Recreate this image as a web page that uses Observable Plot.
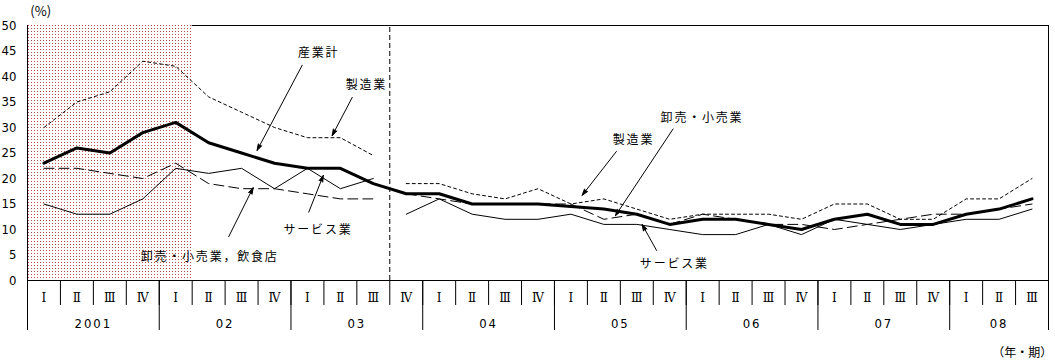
<!DOCTYPE html>
<html><head><meta charset="utf-8">
<script src="https://cdn.jsdelivr.net/npm/d3@7"></script>
<script src="https://cdn.jsdelivr.net/npm/@observablehq/plot@0.6"></script>
<style>
html,body{margin:0;padding:0;background:#fff;}
#chart svg{display:block;}
</style></head><body><div id="chart"></div>
<script>
// ---- data ----
const quarterLabels = ["Ⅰ","Ⅱ","Ⅲ","Ⅳ","Ⅰ","Ⅱ","Ⅲ","Ⅳ","Ⅰ","Ⅱ","Ⅲ","Ⅳ","Ⅰ","Ⅱ","Ⅲ","Ⅳ","Ⅰ","Ⅱ","Ⅲ","Ⅳ","Ⅰ","Ⅱ","Ⅲ","Ⅳ","Ⅰ","Ⅱ","Ⅲ","Ⅳ","Ⅰ","Ⅱ","Ⅲ"];
const yearLabels = ["2001","02","03","04","05","06","07","08"];
const yTicks = [0,5,10,15,20,25,30,35,40,45,50];

// 産業計 (continuous, 2001 I – 2008 III)
const total = [23,26,25,29, 31,27,25,23, 22,22,19,17, 17,15,15,15, 14.5,14,13,11, 12,12,11,10, 12,13,11,11, 13,14,16];
// 製造業
const mfgPre  = [30,35,37,43, 42,36,33,30, 28,28,24.5];
const mfgPost = [19, 19,17,16,18, 15,16,14,12, 13,13,13,12, 15,15,12,12, 16,16,20];
// 卸売・小売業，飲食店 (pre) / 卸売・小売業 (post)
const tradePre  = [22,22,21,20, 23,19,18,18, 17,16,16];
const tradePost = [17, 16,15,15,15, 15,12,13,11, 13,12,11,11, 10,11,12,13, 13,14,15];
// サービス業
const servPre  = [15,13,13,16, 22,21,22,18, 22,18,20];
const servPost = [13, 16,13,12,12, 13,11,11,10, 9,9,11,9, 12,11,10,11, 12,12,14];

const breakIndex = 11;          // series definition change at 2003 IV
const shadedRange = [0, 4];     // 2001 I – 2002 I

const notes = [
  {label:"産業計", x:8.34, y:44.5, x1:7.84, y1:42.2, x2:6.47, y2:25.5},
  {label:"製造業", x:9.79, y:38.4, x1:9.36, y1:35.9, x2:8.75, y2:28.4},
  {label:"卸売・小売業，飲食店", x:5.03, y:4.6, x1:5.61, y1:8.6, x2:6.35, y2:18.2},
  {label:"サービス業", x:8.32, y:9.8, x1:8.04, y1:13.4, x2:8.48, y2:20.6},
  {label:"製造業", x:17.9, y:27.5, x1:17.38, y1:25.3, x2:16.34, y2:16.7},
  {label:"卸売・小売業", x:19.98, y:31.8, x1:19.1, y1:29.7, x2:17.35, y2:12.7},
  {label:"サービス業", x:19.14, y:3.3, x1:18.6, y1:5.9, x2:18.16, y2:11.0}
];

// ---- build tables ----
function rows(values, start, seg){ return values.map((v,i)=>({x:start+i, v, seg})); }
const totalRows = rows(total, 0, "a");
const mfgRows = [...rows(mfgPre,0,"pre"), ...rows(mfgPost,breakIndex,"post")];
const tradeRows = [...rows(tradePre,0,"pre"), ...rows(tradePost,breakIndex,"post")];
const servRows = [...rows(servPre,0,"pre"), ...rows(servPost,breakIndex,"post")];

const n = quarterLabels.length;
const qRows = quarterLabels.map((q,i)=>({i,q}));
let yr=-1; const yearIdx = quarterLabels.map(q=>{ if(q==="Ⅰ") yr++; return yr; });
const yearRows = yearLabels.map((lab,k)=>{
  const idx = yearIdx.map((y,i)=>y===k?i:null).filter(v=>v!==null);
  return {lab, x: d3.mean(idx)};
});
const qBounds = d3.range(n+1).map(i=>i-0.5);
const yearBounds = qBounds.filter(b => b===-0.5 || b===n-0.5 || quarterLabels[b+0.5]==="Ⅰ");

const qRowBottom = -4.9, yearRowBottom = -9.8;
const narrow = "'Liberation Sans Narrow','DejaVu Sans Condensed',sans-serif";
const jp = "'Noto Sans CJK JP',sans-serif";

const chart = Plot.plot({
  width:1055, height:363,
  marginTop:25, marginBottom:83, marginLeft:27, marginRight:7,
  x:{domain:[-0.5, n-0.5], axis:null},
  y:{domain:[0,50], axis:null},
  style:{background:"white", color:"black", overflow:"visible"},
  marks:[
    Plot.frame({stroke:"black", strokeWidth:1}),
    Plot.rect([shadedRange], {x1:d=>d[0]-0.5, x2:d=>d[1]+0.5, y1:0, y2:50, fill:"url(#dots)"}),
    Plot.ruleX([-0.5], {y1:yearRowBottom, y2:50, stroke:"black"}),
    Plot.ruleX([breakIndex-0.5], {y1:0, y2:50, stroke:"black", strokeDasharray:"5,3"}),
    // bottom table
    Plot.ruleX(qBounds, {y1:0, y2:qRowBottom, stroke:"black"}),
    Plot.ruleX(yearBounds, {y1:0, y2:yearRowBottom, stroke:"black"}),
    Plot.text(qRows, {x:"i", y:-3.55, text:"q", fontFamily:"'DejaVu Serif',serif", fontSize:12}),
    Plot.text(yearRows, {x:"x", y:-8.4, text:"lab", fontFamily:narrow, fontSize:13}),
    Plot.text(["（年・期）"], {x:29.7, y:-14.3, text:d=>d, fontFamily:jp, fontSize:12}),
    // y axis labels
    Plot.text(yTicks, {x:-0.5, y:d=>d, text:d=>String(d), dx:-11, textAnchor:"end", fontFamily:narrow, fontSize:13}),
    Plot.text(["(%)"], {x:-0.1, y:52.7, text:d=>d, fontFamily:jp, fontSize:13}),
    // series
    Plot.line(servRows, {x:"x", y:"v", z:"seg", stroke:"black", strokeWidth:1}),
    Plot.line(tradeRows, {x:"x", y:"v", z:"seg", stroke:"black", strokeWidth:1, strokeDasharray:"10,5"}),
    Plot.line(mfgRows, {x:"x", y:"v", z:"seg", stroke:"black", strokeWidth:1, strokeDasharray:"3,3"}),
    Plot.line(totalRows, {x:"x", y:"v", z:"seg", stroke:"black", strokeWidth:3}),
    // annotations
    Plot.arrow(notes, {x1:"x1", y1:"y1", x2:"x2", y2:"y2", stroke:"black", strokeWidth:1, headLength:10, headAngle:35}),
    Plot.text(notes, {x:"x", y:"y", text:"label", fontFamily:jp, fontSize:12})
  ]
});

// pattern for shaded period
const svg = d3.select(chart);
const defs = svg.insert("defs", ":first-child");
const pat = defs.append("pattern").attr("id","dots").attr("patternUnits","userSpaceOnUse")
  .attr("width",3).attr("height",3);
pat.append("rect").attr("width",3).attr("height",3).attr("fill","white");
pat.append("rect").attr("x",1).attr("y",1).attr("width",1).attr("height",1).attr("fill","#b84848");
svg.selectAll('g[aria-label="arrow"] path').attr("fill","black").attr("stroke-linejoin","miter");
const noteLabels = new Set(notes.map(d=>d.label));
const yearSet = new Set(yearLabels);
svg.selectAll("text").each(function(){
  const t = this.textContent;
  if (noteLabels.has(t)) this.style.letterSpacing = "1.8px";
  else if (yearSet.has(t)) this.style.letterSpacing = "2px";
});
document.getElementById("chart").appendChild(chart);
</script>
</body></html>
